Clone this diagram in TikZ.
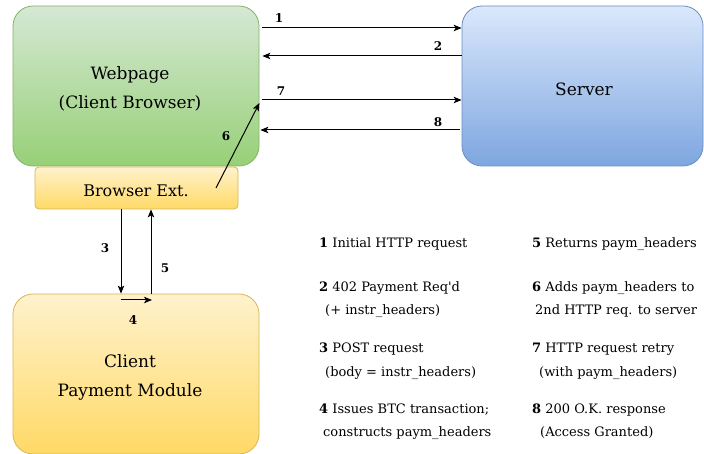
\documentclass[tikz,border=0pt]{standalone}
\usepackage{fontspec}
\setmainfont{DejaVu Serif}
\usetikzlibrary{arrows.meta}
\definecolor{webtop}{HTML}{D5E8D4}
\definecolor{webbot}{HTML}{97D077}
\definecolor{webline}{HTML}{82B366}
\definecolor{yeltop}{HTML}{FFF2CC}
\definecolor{yelbot}{HTML}{FFD966}
\definecolor{yelline}{HTML}{D6B656}
\definecolor{blutop}{HTML}{DAE8FC}
\definecolor{blubot}{HTML}{7EA6E0}
\definecolor{bluline}{HTML}{6C8EBF}
\tikzset{
  bigbox/.style={rounded corners=20pt, line width=0.8pt, minimum width=246pt, minimum height=160pt, inner sep=0pt},
  boxtext/.style={align=center, inner sep=0pt, font=\fontsize{17}{29}\selectfont},
  arr/.style={line width=1pt, -{Stealth[length=8pt,width=6.5pt,inset=2pt]}},
  numlab/.style={font=\fontsize{12}{13}\selectfont\bfseries, inner sep=0pt},
  legend/.style={font=\fontsize{13}{15}\selectfont, anchor=base west, inner sep=0pt},
}
\begin{document}
\begin{tikzpicture}[x=1pt,y=-1pt]
\useasboundingbox (0,0) rectangle (704,454);
% boxes
\node[bigbox, top color=webtop, bottom color=webbot, draw=webline] (web) at (136,86) {};
\node[bigbox, top color=blutop, bottom color=blubot, draw=bluline, minimum width=241pt] (srv) at (582.5,86) {};
\node[bigbox, top color=yeltop, bottom color=yelbot, draw=yelline] (cpm) at (136,374) {};
\node[rounded corners=4pt, line width=0.8pt, top color=yeltop, bottom color=yelbot, draw=yelline,
  minimum width=203pt, minimum height=42pt, inner sep=0pt] (ext) at (136.5,188) {};
% box texts
\node[boxtext] (webt) at (130,89) {Webpage\\(Client Browser)};
\node[boxtext] (srvt) at (584,89) {Server};
\node[boxtext] (cpmt) at (130,377) {Client\\Payment Module};
\node[boxtext, font=\fontsize{16}{18}\selectfont] (extt) at (136,191) {Browser Ext.};
% coordinates
\coordinate (c6s) at (216,188);
\coordinate (c4s) at (121,300);
\coordinate (c4e) at (152,300);
% arrows web <-> server
\draw[arr, shorten <=3pt] (web.east |- 0,28) -- (srv.west |- 0,28);
\draw[arr, shorten >=3pt] (srv.west |- 0,56) -- (web.east |- 0,56);
\draw[arr, shorten <=3pt] (web.east |- 0,100) -- (srv.west |- 0,100);
\draw[arr, shorten >=1pt, shorten <=2pt] (srv.west |- 0,130) -- (web.east |- 0,130);
\draw[arr] (c6s) -- (web.east |- 0,103);
% arrows ext <-> cpm
\draw[arr] (ext.south -| 121,0) -- (cpm.north -| 121,0);
\draw[arr] (cpm.north -| 151,0) -- (ext.south -| 151,0);
\draw[arr] (c4s) -- (c4e);
% arrow labels
\node[numlab] (l1) at (279,18) {1};
\node[numlab] (l2) at (438,46) {2};
\node[numlab] (l7) at (281,91) {7};
\node[numlab] (l8) at (438,122) {8};
\node[numlab] (l6) at (226,136) {6};
\node[numlab] (l3) at (105,248) {3};
\node[numlab] (l5) at (165,268) {5};
\node[numlab] (l4) at (133,320) {4};
% legend left
\node[legend] (t1) at (319,248) {\textbf{1} Initial HTTP request};
\node[legend] (t2) at (319,292) {\textbf{2} 402 Payment Req\textquotesingle d};
\node[legend] (t2b) at (325,315) {(+ instr\_headers)};
\node[legend] (t3) at (319,352) {\textbf{3} POST request};
\node[legend] (t3b) at (325,376) {(body = instr\_headers)};
\node[legend] (t4) at (319,413) {\textbf{4} Issues BTC transaction;};
\node[legend] (t4b) at (323,436) {constructs paym\_headers};
% legend right
\node[legend] (t5) at (532,248) {\textbf{5} Returns paym\_headers};
\node[legend] (t6) at (532,292) {\textbf{6} Adds paym\_headers to};
\node[legend] (t6b) at (535,315) {2nd HTTP req. to server};
\node[legend] (t7) at (532,352) {\textbf{7} HTTP request retry};
\node[legend] (t7b) at (539,376) {(with paym\_headers)};
\node[legend] (t8) at (532,413) {\textbf{8} 200 O.K. response};
\node[legend] (t8b) at (540,436) {(Access Granted)};
\end{tikzpicture}
\end{document}
